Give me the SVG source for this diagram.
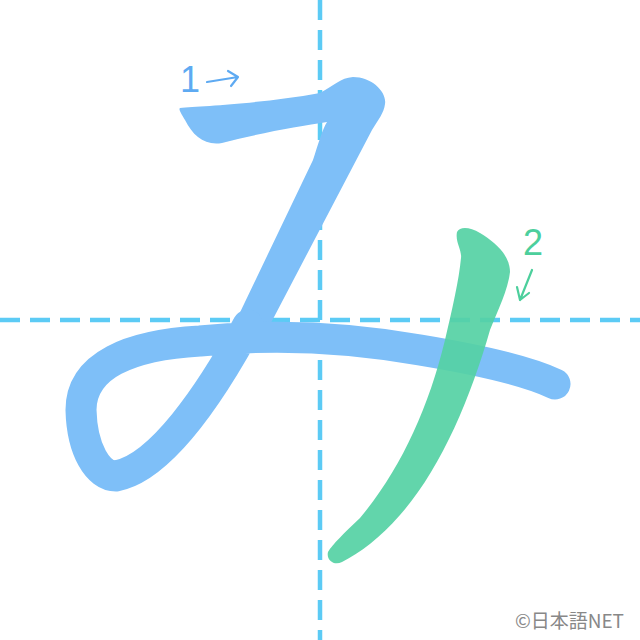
<svg xmlns="http://www.w3.org/2000/svg" width="640" height="640" viewBox="0 0 640 640">
<style>
.guide{stroke:#5ccbf5;stroke-width:4.5;stroke-dasharray:20 10;fill:none}
.s1{fill:#7ebff8}
.s1l{fill:none;stroke:#7ebff8;stroke-width:31;stroke-linecap:round;stroke-linejoin:round}
.s2{fill:#55d1a4;fill-opacity:0.92}
.arr1{fill:none;stroke:#5eaaf2;stroke-width:2.2;stroke-linecap:round;stroke-linejoin:round}
.arr2{fill:none;stroke:#4ccf9c;stroke-width:2.2;stroke-linecap:round;stroke-linejoin:round}
.lbl{font-family:"Liberation Sans","DejaVu Sans",sans-serif;font-size:36px}
.copy{font-family:"Noto Sans CJK JP","Noto Sans",sans-serif;font-size:19px;fill:#888888}
</style>
<rect width="640" height="640" fill="#ffffff"/>
<g id="guides">
<line class="guide" x1="320" y1="0" x2="320" y2="640"/>
<line class="guide" x1="0" y1="320" x2="640" y2="320"/>
</g>
<g id="stroke1">
<path class="s1" d="M180,108 C200,106 260,104 320,93 C335,85 340,78 353,77 C372,77 387,92 385,104 C384,113 378,120 372,130 L262,340 L222,350 L313,160 C318,145 322,130 327,122 C300,126 260,133 222,143 C205,146 193,136 185,120 C182,115 178,109 180,108 Z"/>
<path class="s1l" d="M248,325 C210,395 160,468 116,476 C98,476 82,450 81,410 C81,365 130,345 200,341 C260,335 330,334 420,350 C480,360 530,372 555,384"/>
</g>
<g id="stroke2">
<path class="s2" d="M457,232 C460,226 470,227 480,233 C495,242 510,255 510,272 C508,290 498,310 490,330 C470,400 440,470 400,515 C380,538 360,553 342,562 C334,566 326,560 328,552 C332,545 345,532 360,518 C400,470 428,410 445,340 C452,310 459,280 461,258 C462,250 455,242 457,232 Z"/>
</g>
<g id="label1">
<text class="lbl" x="190" y="92" text-anchor="middle" fill="#5eaaf2">1</text>
<path class="arr1" d="M207,82 L238,77 M228,71 L238,77 L231,86"/>
</g>
<g id="label2">
<text class="lbl" x="533" y="255" text-anchor="middle" fill="#4ccf9c">2</text>
<path class="arr2" d="M532,270 L520,300 M517,287 L520,300 L529,293"/>
</g>
<text class="copy" x="624" y="628" text-anchor="end">©日本語NET</text>
</svg>
